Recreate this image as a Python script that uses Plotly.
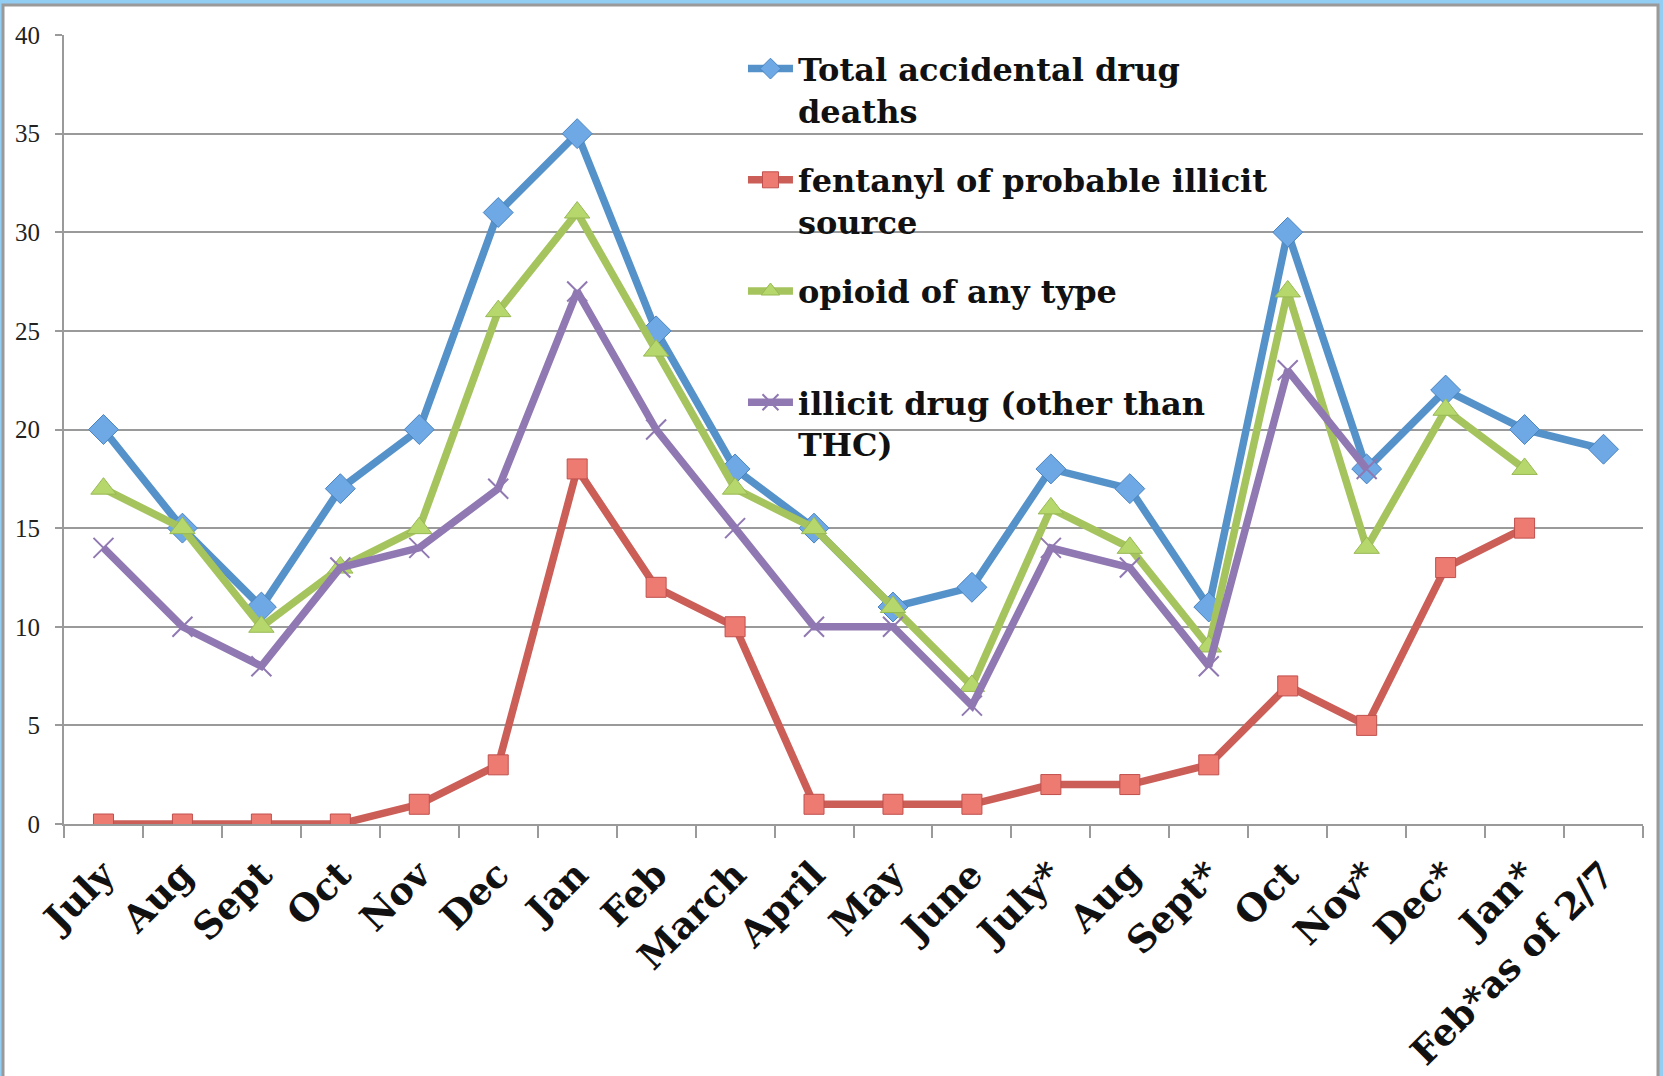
import plotly.graph_objects as go

months = ["July", "Aug", "Sept", "Oct", "Nov", "Dec", "Jan", "Feb", "March", "April",
          "May", "June", "July*", "Aug", "Sept*", "Oct", "Nov*", "Dec*", "Jan*", "Feb*as of 2/7"]

total_deaths = [20, 15, 11, 17, 20, 31, 35, 25, 18, 15, 11, 12, 18, 17, 11, 30, 18, 22, 20, 19]
fentanyl = [0, 0, 0, 0, 1, 3, 18, 12, 10, 1, 1, 1, 2, 2, 3, 7, 5, 13, 15, None]
opioid = [17, 15, 10, 13, 15, 26, 31, 24, 17, 15, 11, 7, 16, 14, 9, 27, 14, 21, 18, None]
illicit = [14, 10, 8, 13, 14, 17, 27, 20, 15, 10, 10, 6, 14, 13, 8, 23, 18, None, None, None]

names = ["Total accidental drug<br>deaths",
         "fentanyl of probable illicit<br>source",
         "opioid of any type<br>\u00a0",
         "illicit drug (other than<br>THC)"]

x = list(range(len(months)))

W, H = 1663, 1076
L, R, T, B = 64, 20, 35, 252
pw, ph = W - L - R, H - T - B

fig = go.Figure()

styles = [
    (total_deaths, "#5592c9", dict(symbol="diamond", size=23, color="#6ea9e6", line=dict(color="#4a84c0", width=1))),
    (fentanyl, "#cc5e58", dict(symbol="square", size=20, color="#ee7b72", line=dict(color="#c0504d", width=1))),
    (opioid, "#a6c45e", dict(symbol="triangle-up", size=22, color="#b6d76c", line=dict(color="#98b954", width=1))),
    (illicit, "#9078b2", dict(symbol="x-thin", size=20, color="#9078b2", line=dict(color="#9078b2", width=2))),
]

for i, (vals, col, mk) in enumerate(styles):
    label = "<b>" + names[i].replace("<br>", "</b><br><b>") + "</b>"
    fig.add_trace(go.Scatter(
        x=x, y=vals, name=label, mode="lines+markers",
        line=dict(color=col, width=7.5), marker=mk,
        legendgroup=str(i), connectgaps=False,
    ))

# frame around the page, like the screenshot of the sheet
def px_x(p):
    return (p - L) / pw

def px_y(p):
    return (H - B - p) / ph

fig.add_shape(type="rect", xref="paper", yref="paper",
              x0=px_x(3), x1=px_x(1658), y0=px_y(H + 10), y1=px_y(5),
              fillcolor="white", line=dict(color="#9a9a9a", width=3), layer="below")

fig.update_layout(
    width=W, height=H,
    margin=dict(l=L, r=R, t=T, b=B, autoexpand=False),
    paper_bgcolor="#92cdf4",
    plot_bgcolor="rgba(0,0,0,0)",
    showlegend=True,
    legend=dict(
        x=0.43, y=0.992, xanchor="left", yanchor="top",
        bgcolor="rgba(0,0,0,0)", borderwidth=0,
        font=dict(family="DejaVu Serif", size=32, color="#111111"),
        valign="top", tracegroupgap=25, itemwidth=45,
    ),
    xaxis=dict(
        range=[-0.5, len(months) - 0.5],
        tickmode="array", tickvals=x, ticktext=["<b>%s</b>" % m for m in months],
        ticks="", tickangle=-45, automargin=False,
        tickfont=dict(family="DejaVu Serif", size=37, color="#111111"),
        showgrid=False, zeroline=False,
        showline=True, linecolor="#9a9a9a", linewidth=2,
        minor=dict(tick0=-0.5, dtick=1, ticks="outside", ticklen=12,
                   tickcolor="#9a9a9a", tickwidth=2, showgrid=False),
        ticklabelstandoff=12,
    ),
    yaxis=dict(
        range=[0, 40], dtick=5, automargin=False,
        ticks="outside", ticklen=7, tickcolor="#9a9a9a", tickwidth=2,
        tickfont=dict(family="Liberation Serif", size=25, color="#222222"),
        showgrid=True, gridcolor="#9a9a9a", gridwidth=2,
        zeroline=False, showline=True, linecolor="#9a9a9a", linewidth=2,
        ticklabelstandoff=10,
    ),
)

fig.write_html("out.html", config={"displayModeBar": False},
               post_script="document.body.style.margin='0';")
